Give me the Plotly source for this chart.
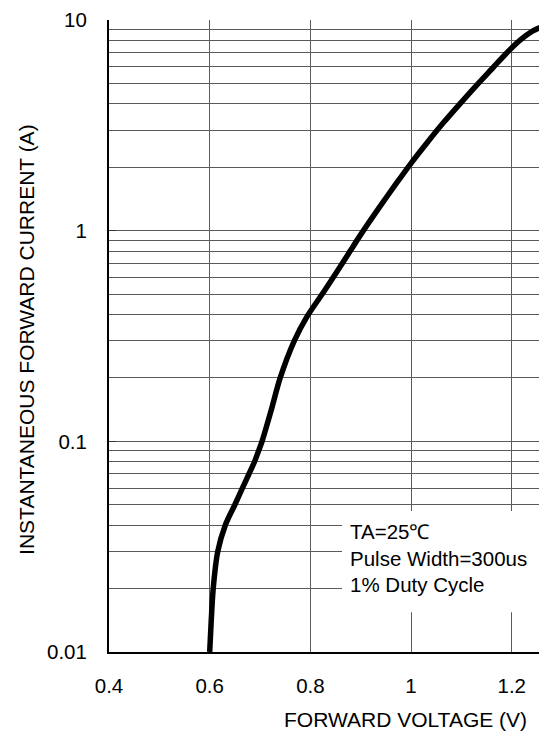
import plotly.graph_objects as go

# Forward voltage (V) and instantaneous forward current (A)
voltage = [0.600, 0.603, 0.607, 0.616, 0.631, 0.650, 0.665, 0.678, 0.689, 0.697,
           0.704, 0.722, 0.740, 0.768, 0.793, 0.826, 0.852, 0.879, 0.899, 0.938,
           0.971, 0.998, 1.031, 1.064, 1.097, 1.130, 1.163, 1.188, 1.216, 1.243, 1.270]
current = [0.010, 0.014, 0.020, 0.030, 0.040, 0.050, 0.060, 0.070, 0.080, 0.090,
           0.100, 0.140, 0.200, 0.300, 0.390, 0.51, 0.634, 0.80, 0.95, 1.30,
           1.68, 2.06, 2.60, 3.25, 4.0, 4.9, 5.95, 6.9, 8.0, 8.9, 9.5]

y_tick_vals = [0.01, 0.1, 1, 10]
y_tick_text = ["0.01", "0.1", "1", "10"]
y_minor_vals = [k * 10 ** e for e in (-2, -1, 0) for k in range(2, 10)]
x_tick_vals = [0.4, 0.6, 0.8, 1.0, 1.2]
x_tick_text = ["0.4", "0.6", "0.8", "1", "1.2"]

note_lines = ["TA=25℃", "Pulse Width=300us", "1% Duty Cycle"]
x_title = "FORWARD VOLTAGE (V)"
y_title = "INSTANTANEOUS FORWARD CURRENT (A)"

FONT = "Liberation Sans, Arial, Helvetica, sans-serif"
GRID = "#5a5a5a"

fig = go.Figure()
fig.add_trace(go.Scatter(
    x=voltage, y=current, mode="lines",
    line=dict(color="black", width=5.5, shape="spline", smoothing=0.8),
    hoverinfo="skip", showlegend=False,
))

# The page body has an 8px default margin, so the figure is 8px smaller and margins are offset
fig.update_layout(
    width=539, height=730,
    margin=dict(l=101, r=0, t=8, b=86),
    paper_bgcolor="white", plot_bgcolor="white",
    font=dict(family=FONT, size=20.5, color="black"),
    xaxis=dict(
        range=[0.4, 1.27], tickvals=x_tick_vals, ticktext=x_tick_text,
        showgrid=True, gridcolor=GRID, gridwidth=1,
        showline=True, linecolor="black", linewidth=2,
        ticks="", ticklabelstandoff=14, zeroline=False, ticklabeloverflow="allow",
        tickfont=dict(family=FONT, size=20.5, color="black"),
    ),
    yaxis=dict(
        type="log", range=[-2, 1], tickvals=y_tick_vals, ticktext=y_tick_text,
        showgrid=True, gridcolor=GRID, gridwidth=1,
        minor=dict(tickvals=y_minor_vals, showgrid=True, gridcolor=GRID, gridwidth=1, ticks=""),
        showline=True, linecolor="black", linewidth=2,
        ticks="inside", ticklen=7, tickcolor="#333", tickwidth=1,
        ticklabelstandoff=16, zeroline=False, ticklabeloverflow="allow",
        tickfont=dict(family=FONT, size=20.5, color="black"),
    ),
    shapes=[dict(type="rect", xref="paper", yref="paper",
                 x0=0.532, x1=1.0, y0=0.063, y1=0.223,
                 fillcolor="white", line=dict(width=0), layer="above")],
    annotations=[
        dict(text="<br>".join(note_lines), xref="paper", yref="paper",
             x=0.545, y=0.149, xanchor="left", yanchor="middle", align="left",
             showarrow=False, font=dict(family=FONT, size=20.5, color="black")),
        dict(text=x_title, xref="paper", yref="paper", x=0.678, y=-0.107,
             xanchor="center", yanchor="middle", showarrow=False,
             font=dict(family=FONT, size=21, color="black")),
        dict(text=y_title, xref="paper", yref="paper", x=-0.187, y=0.494,
             xanchor="center", yanchor="middle", textangle=-90, showarrow=False,
             font=dict(family=FONT, size=21, color="black")),
    ],
)

fig.write_html("out.html")
